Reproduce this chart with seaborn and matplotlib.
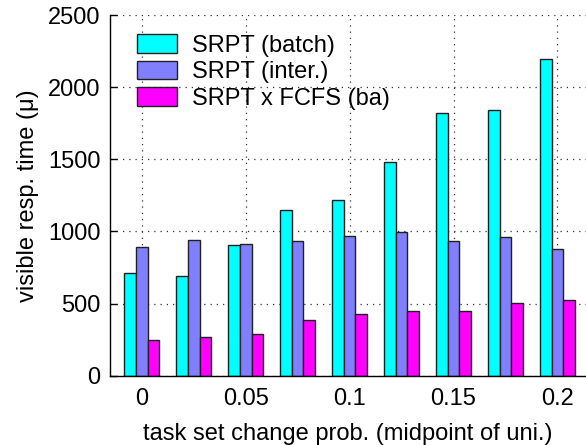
import pandas as pd
import matplotlib
matplotlib.use("Agg")
import matplotlib.pyplot as plt
import seaborn as sns

# -------------------------------------------------
# DATA
# -------------------------------------------------
probs = [0.0, 0.025, 0.05, 0.075, 0.1, 0.125, 0.15, 0.175, 0.2]
srpt_batch = [710, 692, 903, 1150, 1215, 1484, 1824, 1840, 2197]
srpt_inter = [891, 942, 914, 931, 965, 998, 935, 958, 880]
srpt_fcfs = [248, 266, 289, 384, 428, 449, 451, 502, 528]

series_names = ["SRPT (batch)", "SRPT (inter.)", "SRPT x FCFS (ba)"]
colors = ["#00FFFF", "#8080FF", "#FF00FF"]
tick_pos = [0, 2, 4, 6, 8]
tick_labels = ["0", "0.05", "0.1", "0.15", "0.2"]

df = pd.DataFrame({
    "prob": probs * 3,
    "time": srpt_batch + srpt_inter + srpt_fcfs,
    "policy": [series_names[0]] * 9 + [series_names[1]] * 9 + [series_names[2]] * 9,
})

# -------------------------------------------------
# PLOT
# -------------------------------------------------
sns.set_style("white")
plt.rcParams["font.family"] = ["Liberation Sans", "DejaVu Sans"]
plt.rcParams["text.color"] = "black"
plt.rcParams["axes.labelcolor"] = "black"

fig = plt.figure(figsize=(5.86, 4.45), dpi=100)
ax = fig.add_axes([110 / 586, 69.3 / 445, 476 / 586, 360.7 / 445])

sns.barplot(data=df, x="prob", y="time", hue="policy", palette=colors,
            hue_order=series_names, errorbar=None, width=0.67, gap=0,
            edgecolor="#202020", linewidth=1.0, saturation=1, ax=ax)

ax.set_xlim(-0.613, 8.55)
ax.set_ylim(0, 2500)
ax.set_yticks([0, 500, 1000, 1500, 2000, 2500])
ax.set_xticks(tick_pos)
ax.set_xticklabels(tick_labels)

ax.grid(True, linestyle=(0, (1, 4)), color="#333333", linewidth=0.9)
ax.set_axisbelow(True)

for side in ["top", "right"]:
    ax.spines[side].set_visible(False)
for side in ["left", "bottom"]:
    ax.spines[side].set_color("black")
    ax.spines[side].set_linewidth(1.0)

ax.tick_params(axis="both", direction="in", length=5, width=1, colors="black",
               labelsize=17, left=True, bottom=True)
ax.tick_params(axis="x", pad=9)
ax.tick_params(axis="y", pad=7)

ax.set_xlabel("task set change prob. (midpoint of uni.)", fontsize=17, labelpad=9)
ax.set_ylabel("visible resp. time (\u03bc)", fontsize=17, labelpad=6)

ax.legend(loc="upper left", bbox_to_anchor=(27 / 476, (375.7 - 34) / 360.7),
          frameon=False, fontsize=17, handlelength=1.7, handleheight=0.85,
          handletextpad=0.64, labelspacing=0.17, borderpad=0, borderaxespad=0)

plt.savefig("out.png", dpi=100)
plt.close()
